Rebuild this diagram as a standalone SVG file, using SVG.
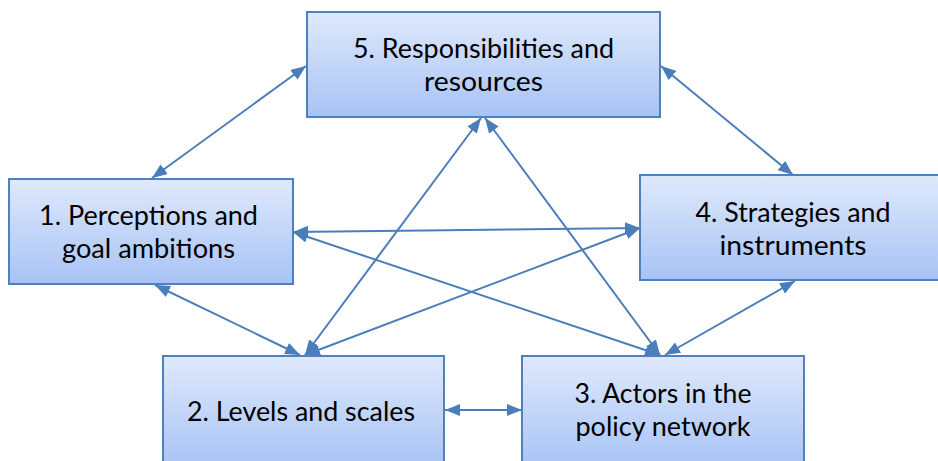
<svg xmlns="http://www.w3.org/2000/svg" width="938" height="461" viewBox="0 0 938 461">
<style>
.box{fill:url(#g);stroke:#4f81bd;stroke-width:2}
.t{font-family:Lato,"Liberation Sans",sans-serif;font-size:27px;fill:#000;text-anchor:middle}
.c{stroke:#4a7ebb;stroke-width:2;fill:none;marker-start:url(#a);marker-end:url(#a)}
</style>
<defs>
<linearGradient id="g" x1="0" y1="0" x2="0" y2="1">
<stop offset="0" stop-color="#dfe9fc"/>
<stop offset="1" stop-color="#a7c3f5"/>
</linearGradient>
<marker id="a" viewBox="0 0 15 12" refX="15" refY="6" markerWidth="15" markerHeight="12" markerUnits="userSpaceOnUse" orient="auto-start-reverse">
<path d="M0,0 L15,6 L0,12 z" fill="#4a7ebb"/>
</marker>
</defs>
<g id="connectors">
<line class="c" x1="306" y1="66" x2="152" y2="178"/>
<line class="c" x1="661" y1="66" x2="793" y2="175"/>
<line class="c" x1="293" y1="232" x2="640" y2="228"/>
<line class="c" x1="293" y1="232" x2="660" y2="355"/>
<line class="c" x1="155" y1="285" x2="300" y2="355"/>
<line class="c" x1="305" y1="355" x2="481" y2="118"/>
<line class="c" x1="305" y1="355" x2="640" y2="228"/>
<line class="c" x1="485" y1="118" x2="660" y2="355"/>
<line class="c" x1="795" y1="281" x2="665" y2="355"/>
<line class="c" x1="445" y1="410" x2="522" y2="410"/>
</g>
<g id="n5">
<rect class="box" x="307" y="12" width="353" height="105"/>
<text class="t" x="483.5" y="58" textLength="261" lengthAdjust="spacingAndGlyphs">5. Responsibilities and</text>
<text class="t" x="483.5" y="91" textLength="119" lengthAdjust="spacingAndGlyphs">resources</text>
</g>
<g id="n1">
<rect class="box" x="9" y="179" width="284" height="105"/>
<text class="t" x="148.5" y="225" textLength="219" lengthAdjust="spacingAndGlyphs">1. Perceptions and</text>
<text class="t" x="148.5" y="258" textLength="173" lengthAdjust="spacingAndGlyphs">goal ambitions</text>
</g>
<g id="n4">
<rect class="box" x="640" y="175" width="306" height="105"/>
<text class="t" x="793" y="222" textLength="195" lengthAdjust="spacingAndGlyphs">4. Strategies and</text>
<text class="t" x="793" y="255" textLength="147" lengthAdjust="spacingAndGlyphs">instruments</text>
</g>
<g id="n2">
<rect class="box" x="163" y="356" width="281" height="112"/>
<text class="t" x="301" y="421" textLength="228" lengthAdjust="spacingAndGlyphs">2. Levels and scales</text>
</g>
<g id="n3">
<rect class="box" x="522" y="356" width="282" height="112"/>
<text class="t" x="663" y="403" textLength="177" lengthAdjust="spacingAndGlyphs">3. Actors in the</text>
<text class="t" x="663" y="436" textLength="175" lengthAdjust="spacingAndGlyphs">policy network</text>
</g>
</svg>
